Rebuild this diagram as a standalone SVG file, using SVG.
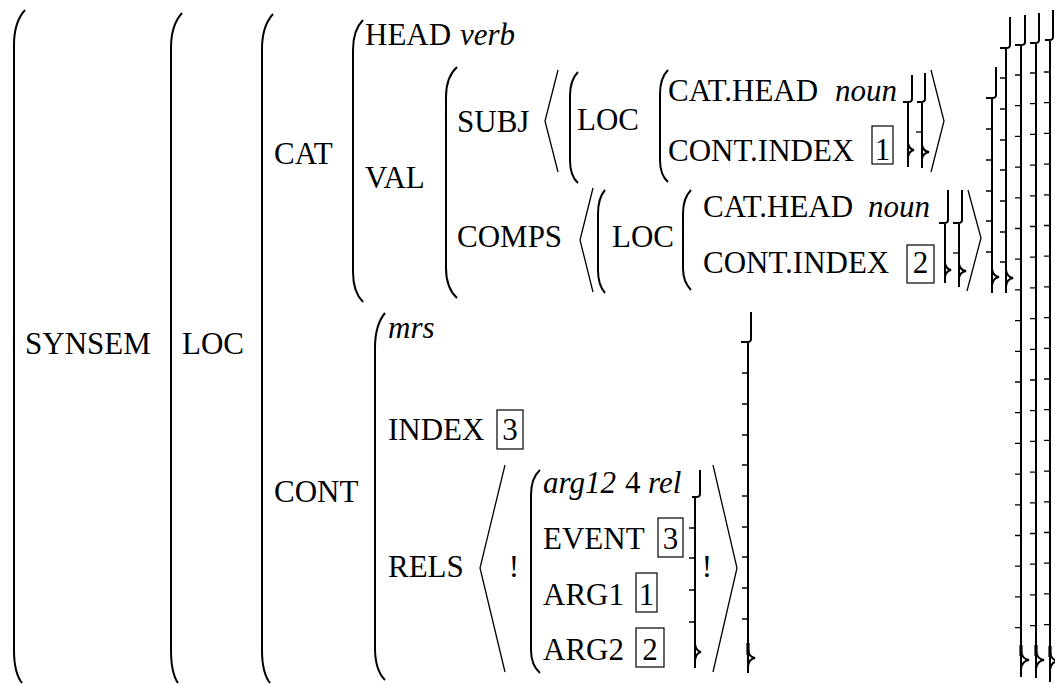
<svg xmlns="http://www.w3.org/2000/svg" width="1055" height="684" viewBox="0 0 1055 684">
<rect width="1055" height="684" fill="#fff"/>
<g id="avm-outer">
<path fill="none" stroke="#000" stroke-width="2" d="M25,10 Q14,22 14,45 V650 Q14,673 22,683"/>
<text font-family="Liberation Serif, Times New Roman, Times, serif" font-size="31" x="25" y="354">SYNSEM</text>
<path fill="none" stroke="#000" stroke-width="2" d="M1053,10 V37 Q1053,40 1049,40 H1045 M1050,40 V682"/>
<path fill="none" stroke="#000" stroke-width="1.3" d="M1050,72h-6M1050,102.7h-6M1050,133.4h-6M1050,164.1h-6M1050,194.8h-6M1050,225.5h-6M1050,256.2h-6M1050,286.9h-6M1050,317.6h-6M1050,348.3h-6M1050,379h-6M1050,409.7h-6M1050,440.4h-6M1050,471.1h-6M1050,501.8h-6M1050,532.5h-6M1050,563.2h-6M1050,593.9h-6M1050,624.6h-6"/>
<path fill="none" stroke="#000" stroke-width="3.2" d="M1050,646V657"/>
<path fill="none" stroke="#000" stroke-width="2" d="M1050,652 Q1051,660 1058,661 Q1051,662 1050,670"/>
</g>
<g id="avm-synsem">
<path fill="none" stroke="#000" stroke-width="2" d="M182,13 Q171,25 171,48 V650 Q171,673 178,683"/>
<text font-family="Liberation Serif, Times New Roman, Times, serif" font-size="31" x="182" y="354">LOC</text>
<path fill="none" stroke="#000" stroke-width="2" d="M1039,13 V40 Q1039,43 1035,43 H1030 M1036,43 V678"/>
<path fill="none" stroke="#000" stroke-width="1.3" d="M1036,73h-6M1036,103.7h-6M1036,134.4h-6M1036,165.1h-6M1036,195.8h-6M1036,226.5h-6M1036,257.2h-6M1036,287.9h-6M1036,318.6h-6M1036,349.3h-6M1036,380h-6M1036,410.7h-6M1036,441.4h-6M1036,472.1h-6M1036,502.8h-6M1036,533.5h-6M1036,564.2h-6M1036,594.9h-6M1036,625.6h-6"/>
<path fill="none" stroke="#000" stroke-width="3.2" d="M1036,645V656"/>
<path fill="none" stroke="#000" stroke-width="2" d="M1036,651 Q1037,659 1044,660 Q1037,661 1036,669"/>
</g>
<g id="avm-loc">
<path fill="none" stroke="#000" stroke-width="2" d="M273,14 Q262,26 262,49 V650 Q262,673 270,683"/>
<text font-family="Liberation Serif, Times New Roman, Times, serif" font-size="31" x="274" y="164">CAT</text>
<text font-family="Liberation Serif, Times New Roman, Times, serif" font-size="31" x="274" y="502">CONT</text>
<path fill="none" stroke="#000" stroke-width="2" d="M1025,15 V42 Q1025,45 1021,45 H1015 M1021,45 V677"/>
<path fill="none" stroke="#000" stroke-width="1.3" d="M1021,75h-6M1021,105.7h-6M1021,136.4h-6M1021,167.1h-6M1021,197.8h-6M1021,228.5h-6M1021,259.2h-6M1021,289.9h-6M1021,320.6h-6M1021,351.3h-6M1021,382h-6M1021,412.7h-6M1021,443.4h-6M1021,474.1h-6M1021,504.8h-6M1021,535.5h-6M1021,566.2h-6M1021,596.9h-6M1021,627.6h-6"/>
<path fill="none" stroke="#000" stroke-width="3.2" d="M1021,645V656"/>
<path fill="none" stroke="#000" stroke-width="2" d="M1021,651 Q1022,659 1029,660 Q1022,661 1021,669"/>
</g>
<g id="avm-cat">
<path fill="none" stroke="#000" stroke-width="2" d="M363,20 Q353,30 353,50 V272 Q353,292 363,302"/>
<text font-family="Liberation Serif, Times New Roman, Times, serif" font-size="31" x="365" y="45">HEAD</text>
<text font-family="Liberation Serif, Times New Roman, Times, serif" font-size="31" font-style="italic" x="460" y="45">verb</text>
<text font-family="Liberation Serif, Times New Roman, Times, serif" font-size="31" x="365" y="188">VAL</text>
<path fill="none" stroke="#000" stroke-width="2" d="M1010,17 V45 Q1010,48 1006,48 H1000 M1006,48 V293"/>
<path fill="none" stroke="#000" stroke-width="1.3" d="M1006,78h-6M1006,109h-6M1006,140h-6M1006,170h-6M1006,201h-6M1006,232h-6M1006,262h-6"/>
<path fill="none" stroke="#000" stroke-width="2" d="M1006,270 Q1007,277 1013,278 Q1007,279 1006,286"/>
</g>
<g id="avm-val">
<path fill="none" stroke="#000" stroke-width="2" d="M457,67 Q446,77 446,97 V268 Q446,288 457,298"/>
<text font-family="Liberation Serif, Times New Roman, Times, serif" font-size="31" x="457" y="132">SUBJ</text>
<text font-family="Liberation Serif, Times New Roman, Times, serif" font-size="31" x="457" y="247">COMPS</text>
<path fill="none" stroke="#000" stroke-width="2" d="M996,67 V95 Q996,98 992,98 H986 M992,98 V293"/>
<path fill="none" stroke="#000" stroke-width="1.3" d="M992,129h-6M992,160h-6M992,191h-6M992,221h-6M992,252h-6"/>
<path fill="none" stroke="#000" stroke-width="2" d="M992,269 Q993,276 999,277 Q993,278 992,285"/>
</g>
<g id="subj-list">
<path fill="none" stroke="#000" stroke-width="1.3" d="M558,70 L545,121 L558,172"/>
<path fill="none" stroke="#000" stroke-width="1.3" d="M931,70 L944,121 L931,172"/>
<path fill="none" stroke="#000" stroke-width="2" d="M578,72 Q570,80 570,96 V160 Q570,176 578,183"/>
<text font-family="Liberation Serif, Times New Roman, Times, serif" font-size="31" x="577" y="130">LOC</text>
<path fill="none" stroke="#000" stroke-width="2" d="M925,73 V99 Q925,102 921,102 H917 M922,102 V168"/>
<path fill="none" stroke="#000" stroke-width="1.3" d="M922,132h-6"/>
<path fill="none" stroke="#000" stroke-width="2" d="M922,145 Q923,151 929,152 Q923,153 922,159"/>
</g>
<g id="subj-loc">
<path fill="none" stroke="#000" stroke-width="2" d="M668,70 Q660,78 660,94 V160 Q660,175 668,182"/>
<text font-family="Liberation Serif, Times New Roman, Times, serif" font-size="31" x="668" y="101">CAT.HEAD</text>
<text font-family="Liberation Serif, Times New Roman, Times, serif" font-size="31" font-style="italic" x="835" y="101">noun</text>
<text font-family="Liberation Serif, Times New Roman, Times, serif" font-size="31" x="668" y="161">CONT.INDEX</text>
<rect fill="none" stroke="#000" stroke-width="1.2" x="872" y="126" width="21" height="38"/>
<text font-family="Liberation Serif, Times New Roman, Times, serif" font-size="31" text-anchor="middle" x="882.5" y="160">1</text>
<path fill="none" stroke="#000" stroke-width="2" d="M912,75 V99 Q912,102 908,102 H903 M908,102 V167"/>
<path fill="none" stroke="#000" stroke-width="2" d="M908,143 Q909,149 914,150 Q909,151 908,157"/>
</g>
<g id="comps-list">
<path fill="none" stroke="#000" stroke-width="1.3" d="M593,188 L580,240 L593,292"/>
<path fill="none" stroke="#000" stroke-width="1.3" d="M968,190 L981,238 L967,291"/>
<path fill="none" stroke="#000" stroke-width="2" d="M605,190 Q598,198 598,214 V270 Q598,285 605,293"/>
<text font-family="Liberation Serif, Times New Roman, Times, serif" font-size="31" x="612" y="247">LOC</text>
<path fill="none" stroke="#000" stroke-width="2" d="M962,190 V220 Q962,223 958,223 H953 M959,223 V287"/>
<path fill="none" stroke="#000" stroke-width="1.3" d="M959,253h-6"/>
<path fill="none" stroke="#000" stroke-width="2" d="M959,264 Q960,270 966,271 Q960,272 959,278"/>
</g>
<g id="comps-loc">
<path fill="none" stroke="#000" stroke-width="2" d="M691,190 Q683,198 683,214 V268 Q683,282 691,290"/>
<text font-family="Liberation Serif, Times New Roman, Times, serif" font-size="31" x="703" y="217">CAT.HEAD</text>
<text font-family="Liberation Serif, Times New Roman, Times, serif" font-size="31" font-style="italic" x="868" y="217">noun</text>
<text font-family="Liberation Serif, Times New Roman, Times, serif" font-size="31" x="703" y="273">CONT.INDEX</text>
<rect fill="none" stroke="#000" stroke-width="1.2" x="907" y="245" width="27" height="38"/>
<text font-family="Liberation Serif, Times New Roman, Times, serif" font-size="31" text-anchor="middle" x="920.5" y="273">2</text>
<path fill="none" stroke="#000" stroke-width="2" d="M948,190 V220 Q948,223 944,223 H939 M945,223 V283"/>
<path fill="none" stroke="#000" stroke-width="2" d="M945,263 Q946,269 951,270 Q946,271 945,277"/>
</g>
<g id="avm-cont">
<path fill="none" stroke="#000" stroke-width="2" d="M385,313 Q375,325 375,348 V648 Q375,670 385,680"/>
<text font-family="Liberation Serif, Times New Roman, Times, serif" font-size="31" font-style="italic" x="388" y="338">mrs</text>
<text font-family="Liberation Serif, Times New Roman, Times, serif" font-size="31" x="388" y="440">INDEX</text>
<rect fill="none" stroke="#000" stroke-width="1.2" x="497" y="410" width="26" height="39"/>
<text font-family="Liberation Serif, Times New Roman, Times, serif" font-size="31" text-anchor="middle" x="510" y="440">3</text>
<text font-family="Liberation Serif, Times New Roman, Times, serif" font-size="31" x="388" y="577">RELS</text>
<path fill="none" stroke="#000" stroke-width="2" d="M751,312 V339 Q751,342 747,342 H741 M748,342 V673"/>
<path fill="none" stroke="#000" stroke-width="1.3" d="M748,373h-6M748,404h-6M748,435h-6M748,465h-6M748,496h-6M748,527h-6M748,557h-6M748,588h-6M748,619h-6"/>
<path fill="none" stroke="#000" stroke-width="3.2" d="M748,643V655"/>
<path fill="none" stroke="#000" stroke-width="2" d="M748,650 Q749,657 755,658 Q749,659 748,666"/>
</g>
<g id="rels-list">
<path fill="none" stroke="#000" stroke-width="1.3" d="M505,465 L480,568 L505,672"/>
<text font-family="Liberation Serif, Times New Roman, Times, serif" font-size="31" text-anchor="middle" x="514" y="577">!</text>
<text font-family="Liberation Serif, Times New Roman, Times, serif" font-size="31" text-anchor="middle" x="707" y="577">!</text>
<path fill="none" stroke="#000" stroke-width="1.3" d="M713,465 L737,568 L713,672"/>
</g>
<g id="rels-rel">
<path fill="none" stroke="#000" stroke-width="2" d="M540,470 Q531,478 531,495 V650 Q531,665 540,673"/>
<text font-family="Liberation Serif, Times New Roman, Times, serif" font-size="31" font-style="italic" x="543" y="493">arg12</text>
<text font-family="Liberation Serif, Times New Roman, Times, serif" font-size="31" x="625" y="493">4</text>
<text font-family="Liberation Serif, Times New Roman, Times, serif" font-size="31" font-style="italic" x="648" y="493">rel</text>
<text font-family="Liberation Serif, Times New Roman, Times, serif" font-size="31" x="543" y="549">EVENT</text>
<rect fill="none" stroke="#000" stroke-width="1.2" x="658" y="518" width="25" height="39"/>
<text font-family="Liberation Serif, Times New Roman, Times, serif" font-size="31" text-anchor="middle" x="670.5" y="549">3</text>
<text font-family="Liberation Serif, Times New Roman, Times, serif" font-size="31" x="543" y="605">ARG1</text>
<rect fill="none" stroke="#000" stroke-width="1.2" x="636" y="573" width="21" height="39"/>
<text font-family="Liberation Serif, Times New Roman, Times, serif" font-size="31" text-anchor="middle" x="646.5" y="605">1</text>
<text font-family="Liberation Serif, Times New Roman, Times, serif" font-size="31" x="543" y="660">ARG2</text>
<rect fill="none" stroke="#000" stroke-width="1.2" x="636" y="628" width="28" height="39"/>
<text font-family="Liberation Serif, Times New Roman, Times, serif" font-size="31" text-anchor="middle" x="650" y="660">2</text>
<path fill="none" stroke="#000" stroke-width="2" d="M700,470 V494 Q700,497 696,497 H692 M695,497 V668"/>
<path fill="none" stroke="#000" stroke-width="1.3" d="M695,528h-6M695,558h-6M695,590h-6M695,622h-6"/>
<path fill="none" stroke="#000" stroke-width="2" d="M695,644 Q696,651 701,652 Q696,653 695,660"/>
</g>
</svg>
